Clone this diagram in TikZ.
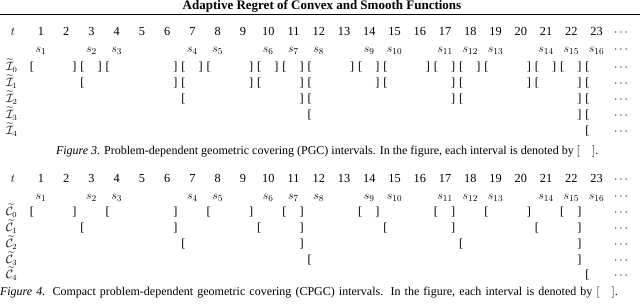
\documentclass[tikz,border=0pt]{standalone}
\usepackage{fontspec}
\setmainfont{Liberation Serif}
\usepackage{amsmath}
\begin{document}
\begin{tikzpicture}[x=1pt,y=-1pt,
  every node/.style={inner sep=0pt,outer sep=0pt},
  cell/.style={font=\fontsize{12.3}{14}\selectfont,anchor=mid},
  rowlab/.style={font=\fontsize{12}{14}\selectfont,anchor=mid west},
  capt/.style={font=\fontsize{12}{14}\selectfont,anchor=mid west},
  ttl/.style={font=\bfseries\fontsize{13}{15}\selectfont,anchor=mid}]
\useasboundingbox (0,0) rectangle (640,305);
\def\colx#1{41+25.25*(#1-1)}
% title and rule
\node[ttl] (title) at (322,7) {Adaptive Regret of Convex and Smooth Functions};
\draw[line width=1.4pt] (0,14.5) -- (640,14.5);
% ---------- Figure 3 ----------
\node[cell] (at) at (13,33) {$t$};
\foreach \k in {1,...,23} \node[cell] (at\k) at ({\colx{\k}},33) {\k};
\node[cell] (atd) at (622,33) {$\cdots$};
\foreach \c [count=\i] in {1,3,4,7,8,10,11,12,14,15,17,18,19,21,22,23}
  \node[cell] (as\i) at ({\colx{\c}},50) {$s_{\i}$};
\node[cell] (asd) at (622,50) {$\cdots$};
\foreach \r/\yy in {0/68,1/84,2/100,3/116,4/132}{
  \node[rowlab] (alab\r) at (6,\yy) {$\widetilde{\mathcal{I}}_{\r}$};
  \node[cell] (ad\r) at (622,\yy) {$\cdots$};
}
% opens
\foreach \r/\yy/\lst in {0/68/{1,3,4,7,8,10,11,12,14,15,17,18,19,21,22,23},
                          1/84/{3,7,10,12,15,18,21,23},
                          2/100/{7,12,18,23},
                          3/116/{12,23},
                          4/132/{23}}{
  \foreach \c in \lst \node[cell] (ao\r-\c) at ({\colx{\c}-9},\yy) {[};
}
% closes
\foreach \r/\yy/\lst in {0/68/{3,4,7,8,10,11,12,14,15,17,18,19,21,22,23},
                          1/84/{7,10,12,15,18,21,23},
                          2/100/{12,18,23},
                          3/116/{23}}{
  \foreach \c in \lst \node[cell] (ac\r-\c) at ({\colx{\c}-17},\yy) {]};
}
\node[capt] (cap3) at (56,152) {\textit{Figure 3.} Problem-dependent geometric covering (PGC) intervals. In the figure, each interval is denoted by $[\quad]$.};
% ---------- Figure 4 ----------
\node[cell] (bt) at (13,180) {$t$};
\foreach \k in {1,...,23} \node[cell] (bt\k) at ({\colx{\k}},180) {\k};
\node[cell] (btd) at (622,180) {$\cdots$};
\foreach \c [count=\i] in {1,3,4,7,8,10,11,12,14,15,17,18,19,21,22,23}
  \node[cell] (bs\i) at ({\colx{\c}},197) {$s_{\i}$};
\node[cell] (bsd) at (622,197) {$\cdots$};
\foreach \r/\yy in {0/213,1/229,2/245,3/261,4/276}{
  \node[rowlab] (blab\r) at (6,\yy) {$\widetilde{\mathcal{C}}_{\r}$};
  \node[cell] (bd\r) at (622,\yy) {$\cdots$};
}
\foreach \r/\yy/\lst in {0/213/{1,4,8,11,14,17,19,22},
                          1/229/{3,10,15,21},
                          2/245/{7,18},
                          3/261/{12},
                          4/276/{23}}{
  \foreach \c in \lst \node[cell] (bo\r-\c) at ({\colx{\c}-9},\yy) {[};
}
\foreach \r/\yy/\lst in {0/213/{3,7,10,12,15,18,21,23},
                          1/229/{7,12,18,23},
                          2/245/{12,23},
                          3/261/{23}}{
  \foreach \c in \lst \node[cell] (bc\r-\c) at ({\colx{\c}-17},\yy) {]};
}
\node[capt] (cap4) at (0,293) {\makebox[618pt][s]{\textit{Figure 4.} Compact problem-dependent geometric covering (CPGC) intervals. In the figure, each interval is denoted by $[\quad]$.}};
\end{tikzpicture}
\end{document}
